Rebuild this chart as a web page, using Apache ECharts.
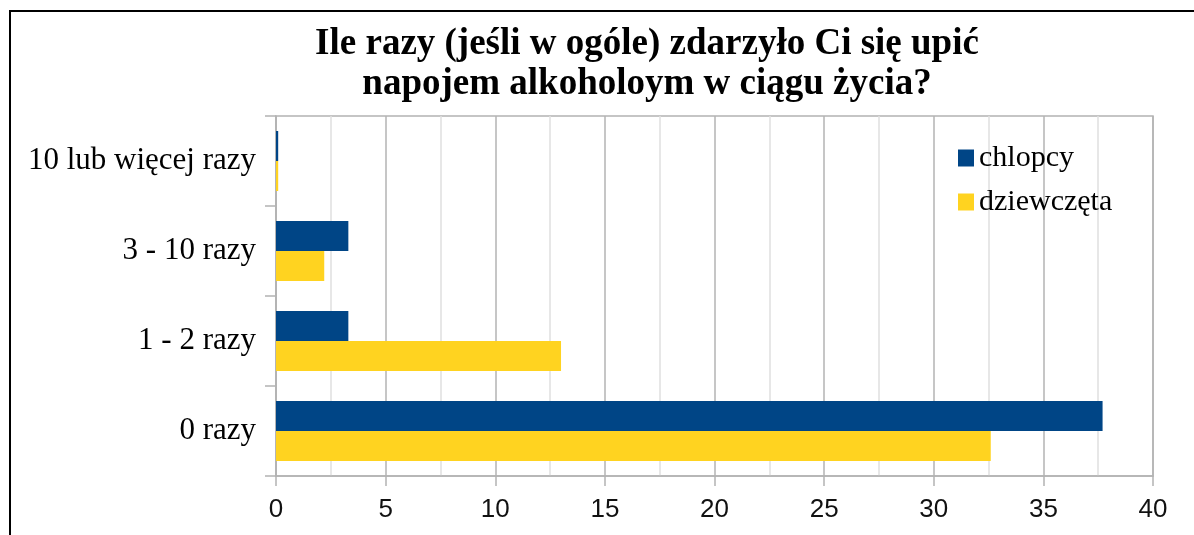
<!DOCTYPE html>
<html>
<head>
<meta charset="utf-8">
<script src="https://cdn.jsdelivr.net/npm/echarts@6/dist/echarts.min.js"></script>
<style>
  html, body { margin: 0; padding: 0; background: #fff; }
  #main { width: 1194px; height: 535px; }
</style>
</head>
<body>
<div id="main"></div>
<script>
// dane z wykresu (w %)
const categories = ['0 razy', '1 - 2 razy', '3 - 10 razy', '10 lub więcej razy']
const chlopcy = [37.7, 3.3, 3.3, 0.1]
const dziewczeta = [32.6, 13.0, 2.2, 0.1]
const xTicks = { min: 0, max: 40, interval: 5 }

const chartDom = document.getElementById('main')
const myChart = echarts.init(chartDom)

const serif = 'Liberation Serif'
const gridColor = '#b3b3b3'

const option = {
  backgroundColor: '#fff',
  animation: false,
  title: {
    text: 'Ile razy (jeśli w ogóle) zdarzyło Ci się upić\nnapojem alkoholoym w ciągu życia?',
    left: 642,
    top: 19,
    textAlign: 'center',
    textStyle: {
      fontFamily: serif,
      fontWeight: 'bold',
      fontSize: 37,
      lineHeight: 40,
      color: '#000'
    }
  },
  graphic: [
    {
      // ramka dookoła
      type: 'rect',
      z: -1,
      shape: { x: 10, y: 11, width: 1300, height: 700 },
      style: { fill: 'none', stroke: '#000', lineWidth: 2 }
    }
  ],
  legend: {
    orient: 'vertical',
    left: 953,
    top: 138,
    icon: 'rect',
    itemWidth: 16,
    itemHeight: 17,
    itemGap: 14,
    data: ['chlopcy', 'dziewczęta'],
    textStyle: {
      fontFamily: serif,
      fontSize: 30,
      color: '#000',
      padding: [0, 0, 0, 0]
    }
  },
  grid: {
    left: 276,
    right: 41,
    top: 116,
    bottom: 59,
    show: true,
    borderColor: gridColor,
    borderWidth: 1.5
  },
  xAxis: {
    type: 'value',
    min: xTicks.min,
    max: xTicks.max,
    interval: xTicks.interval,
    axisLine: { show: true, lineStyle: { color: gridColor, width: 1.5 } },
    axisTick: { show: true, length: 10, lineStyle: { color: gridColor, width: 1.5 } },
    axisLabel: {
      margin: 21,
      fontFamily: 'Liberation Sans',
      fontSize: 26,
      color: '#111'
    },
    splitLine: { show: true, lineStyle: { color: gridColor, width: 1.5 } },
    minorTick: { show: false, splitNumber: 2 },
    minorSplitLine: { show: true, lineStyle: { color: '#e0e0e0', width: 1.5 } }
  },
  yAxis: {
    type: 'category',
    data: categories,
    axisLine: { show: true, lineStyle: { color: gridColor, width: 1.5 } },
    axisTick: { show: true, length: 11, lineStyle: { color: gridColor, width: 1.5 } },
    axisLabel: {
      margin: 20,
      fontFamily: serif,
      fontSize: 31,
      color: '#000'
    },
    splitLine: { show: false }
  },
  series: [
    {
      name: 'chlopcy',
      type: 'bar',
      data: chlopcy,
      barWidth: 30,
      barGap: '0%',
      itemStyle: { color: '#004586' }
    },
    {
      name: 'dziewczęta',
      type: 'bar',
      data: dziewczeta,
      barWidth: 30,
      barGap: '0%',
      itemStyle: { color: '#ffd320' }
    }
  ]
}
option && myChart.setOption(option)
</script>
</body>
</html>
